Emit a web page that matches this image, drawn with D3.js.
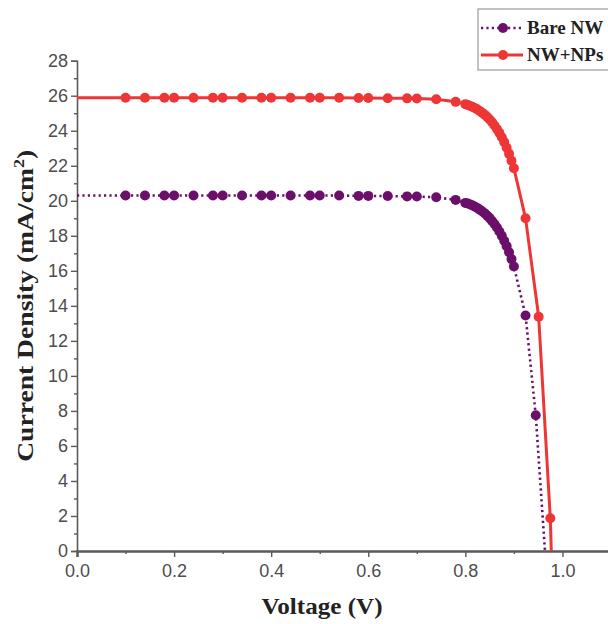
<!DOCTYPE html>
<html>
<head>
<meta charset="utf-8">
<script src="https://cdn.jsdelivr.net/npm/d3@7"></script>
<style>
  html, body { margin: 0; padding: 0; background: #fff; }
  svg { display: block; }
</style>
</head>
<body>
<svg id="chart" width="608" height="624"></svg>
<script>
// J–V curves: voltage (V) vs current density (mA/cm²)
const seriesNames = ["Bare NW", "NW+NPs"];

const bareVoltage = [0, 0.10, 0.14, 0.18, 0.20, 0.24, 0.28, 0.30, 0.34, 0.38, 0.40, 0.44, 0.48, 0.50,
  0.54, 0.58, 0.60, 0.64, 0.68, 0.70, 0.74, 0.78,
  0.800, 0.805, 0.810, 0.815, 0.820, 0.825, 0.830, 0.835, 0.840, 0.845, 0.850, 0.855, 0.860,
  0.865, 0.870, 0.875, 0.880, 0.885, 0.890, 0.895, 0.900, 0.924, 0.945, 0.964];
const bareCurrent = [20.3, 20.3, 20.3, 20.3, 20.3, 20.3, 20.3, 20.3, 20.3, 20.3, 20.3, 20.3, 20.3, 20.3,
  20.3, 20.28, 20.28, 20.27, 20.25, 20.24, 20.2, 20.05,
  19.88, 19.84, 19.79, 19.73, 19.66, 19.58, 19.49, 19.39, 19.28, 19.15, 19.01, 18.85, 18.67,
  18.47, 18.25, 18.00, 17.72, 17.41, 17.06, 16.67, 16.25, 13.45, 7.75, 0];

const npVoltage = [0, 0.10, 0.14, 0.18, 0.20, 0.24, 0.28, 0.30, 0.34, 0.38, 0.40, 0.44, 0.48, 0.50,
  0.54, 0.58, 0.60, 0.64, 0.68, 0.70, 0.74, 0.78,
  0.800, 0.805, 0.810, 0.815, 0.820, 0.825, 0.830, 0.835, 0.840, 0.845, 0.850, 0.855, 0.860,
  0.865, 0.870, 0.875, 0.880, 0.885, 0.890, 0.895, 0.900, 0.924, 0.951, 0.975, 0.977];
const npCurrent = [25.88, 25.88, 25.88, 25.88, 25.88, 25.88, 25.88, 25.88, 25.88, 25.88, 25.88, 25.88, 25.88, 25.88,
  25.88, 25.87, 25.87, 25.86, 25.85, 25.84, 25.8, 25.65,
  25.52, 25.47, 25.42, 25.36, 25.29, 25.21, 25.12, 25.02, 24.91, 24.78, 24.64, 24.48, 24.30,
  24.10, 23.88, 23.63, 23.35, 23.03, 22.68, 22.29, 21.86, 19.0, 13.38, 1.87, 0];

const xMajorTicks = [0.0, 0.2, 0.4, 0.6, 0.8, 1.0];
const xMinorTicks = [0.1, 0.3, 0.5, 0.7, 0.9, 1.1];
const yMajorTicks = [0, 2, 4, 6, 8, 10, 12, 14, 16, 18, 20, 22, 24, 26, 28];
const yMinorTicks = [1, 3, 5, 7, 9, 11, 13, 15, 17, 19, 21, 23, 25, 27];

const colors = { bare: "#6b0f6b", np: "#ee3636" };

const svg = d3.select("#chart");
const x = d3.scaleLinear().domain([0, 1.1]).range([77, 611]);
const y = d3.scaleLinear().domain([0, 28]).range([551, 60.7]);

const axisColor = "#5a5a5a";
const tickFont = "'Liberation Sans', Arial, sans-serif";

// y axis
svg.append("g").attr("transform", `translate(${x(0)},0)`)
  .call(d3.axisLeft(y).tickValues(yMajorTicks).tickSize(6).tickPadding(3).tickFormat(d3.format("d")));
svg.append("g").attr("transform", `translate(${x(0)},0)`)
  .call(d3.axisLeft(y).tickValues(yMinorTicks).tickSize(3).tickFormat(""))
  .select(".domain").remove();

// x axis
const xAxis = svg.append("g").attr("transform", `translate(0,${y(0)})`)
  .call(d3.axisBottom(x).tickValues(xMajorTicks).tickSize(6).tickPadding(7).tickFormat(d3.format(".1f")));
svg.append("g").attr("transform", `translate(0,${y(0)})`)
  .call(d3.axisBottom(x).tickValues(xMinorTicks).tickSize(3).tickFormat(""))
  .select(".domain").remove();

svg.selectAll(".domain").attr("stroke", axisColor).attr("stroke-width", 1.6);
svg.selectAll(".tick line").attr("stroke", axisColor).attr("stroke-width", 1.4);
svg.selectAll(".tick text")
  .attr("fill", "#4d4d4d")
  .style("font-family", tickFont)
  .style("font-size", "18px");
xAxis.select(".domain").attr("stroke-width", 2.4);

// curves
const line = d3.line().x(d => x(d[0])).y(d => y(d[1]));
const bare = d3.zip(bareVoltage, bareCurrent);
const np = d3.zip(npVoltage, npCurrent);

svg.append("path").datum(bare)
  .attr("fill", "none").attr("stroke", colors.bare)
  .attr("stroke-width", 2.6).attr("stroke-dasharray", "2.2,3.2")
  .attr("d", line);
svg.append("g").selectAll("circle").data(bare.filter(d => d[0] > 0 && d[1] > 0)).join("circle")
  .attr("cx", d => x(d[0])).attr("cy", d => y(d[1])).attr("r", 5)
  .attr("fill", colors.bare);

svg.append("path").datum(np)
  .attr("fill", "none").attr("stroke", colors.np)
  .attr("stroke-width", 3)
  .attr("d", line);
svg.append("g").selectAll("circle").data(np.filter(d => d[0] > 0 && d[1] > 0)).join("circle")
  .attr("cx", d => x(d[0])).attr("cy", d => y(d[1])).attr("r", 5)
  .attr("fill", colors.np);

// axis titles
const titleFont = "'Liberation Serif', 'Times New Roman', serif";
svg.append("text")
  .attr("x", 322).attr("y", 614)
  .attr("text-anchor", "middle")
  .attr("textLength", 121).attr("lengthAdjust", "spacingAndGlyphs")
  .style("font-family", titleFont).style("font-weight", "bold").style("font-size", "23px")
  .attr("fill", "#222")
  .text("Voltage (V)");

const yTitle = svg.append("text")
  .attr("transform", `translate(33,${(y(0) + y(28)) / 2}) rotate(-90)`)
  .attr("text-anchor", "middle")
  .attr("textLength", 312).attr("lengthAdjust", "spacingAndGlyphs")
  .style("font-family", titleFont).style("font-weight", "bold").style("font-size", "23px")
  .attr("fill", "#222");
yTitle.append("tspan").text("Current Density (mA/cm");
yTitle.append("tspan").attr("dy", -9).style("font-size", "15px").text("2");
yTitle.append("tspan").attr("dy", 9).text(")");

// legend
const legend = svg.append("g").attr("transform", "translate(478,9)");
legend.append("rect").attr("x", 0).attr("y", 0).attr("width", 140).attr("height", 61)
  .attr("fill", "#fff").attr("stroke", "#9a9a9a").attr("stroke-width", 1.2);
const entries = [
  { name: seriesNames[0], color: colors.bare, dash: "2.2,3.2", w: 2.6, cy: 19 },
  { name: seriesNames[1], color: colors.np, dash: null, w: 3, cy: 46 }
];
entries.forEach(e => {
  legend.append("line").attr("x1", 3).attr("x2", 45).attr("y1", e.cy).attr("y2", e.cy)
    .attr("stroke", e.color).attr("stroke-width", e.w)
    .attr("stroke-dasharray", e.dash);
  legend.append("circle").attr("cx", 25).attr("cy", e.cy).attr("r", 5).attr("fill", e.color);
  legend.append("text").attr("x", 49).attr("y", e.cy + 6)
    .style("font-family", titleFont).style("font-weight", "bold").style("font-size", "19px")
    .attr("fill", "#222").text(e.name);
});
</script>
</body>
</html>
